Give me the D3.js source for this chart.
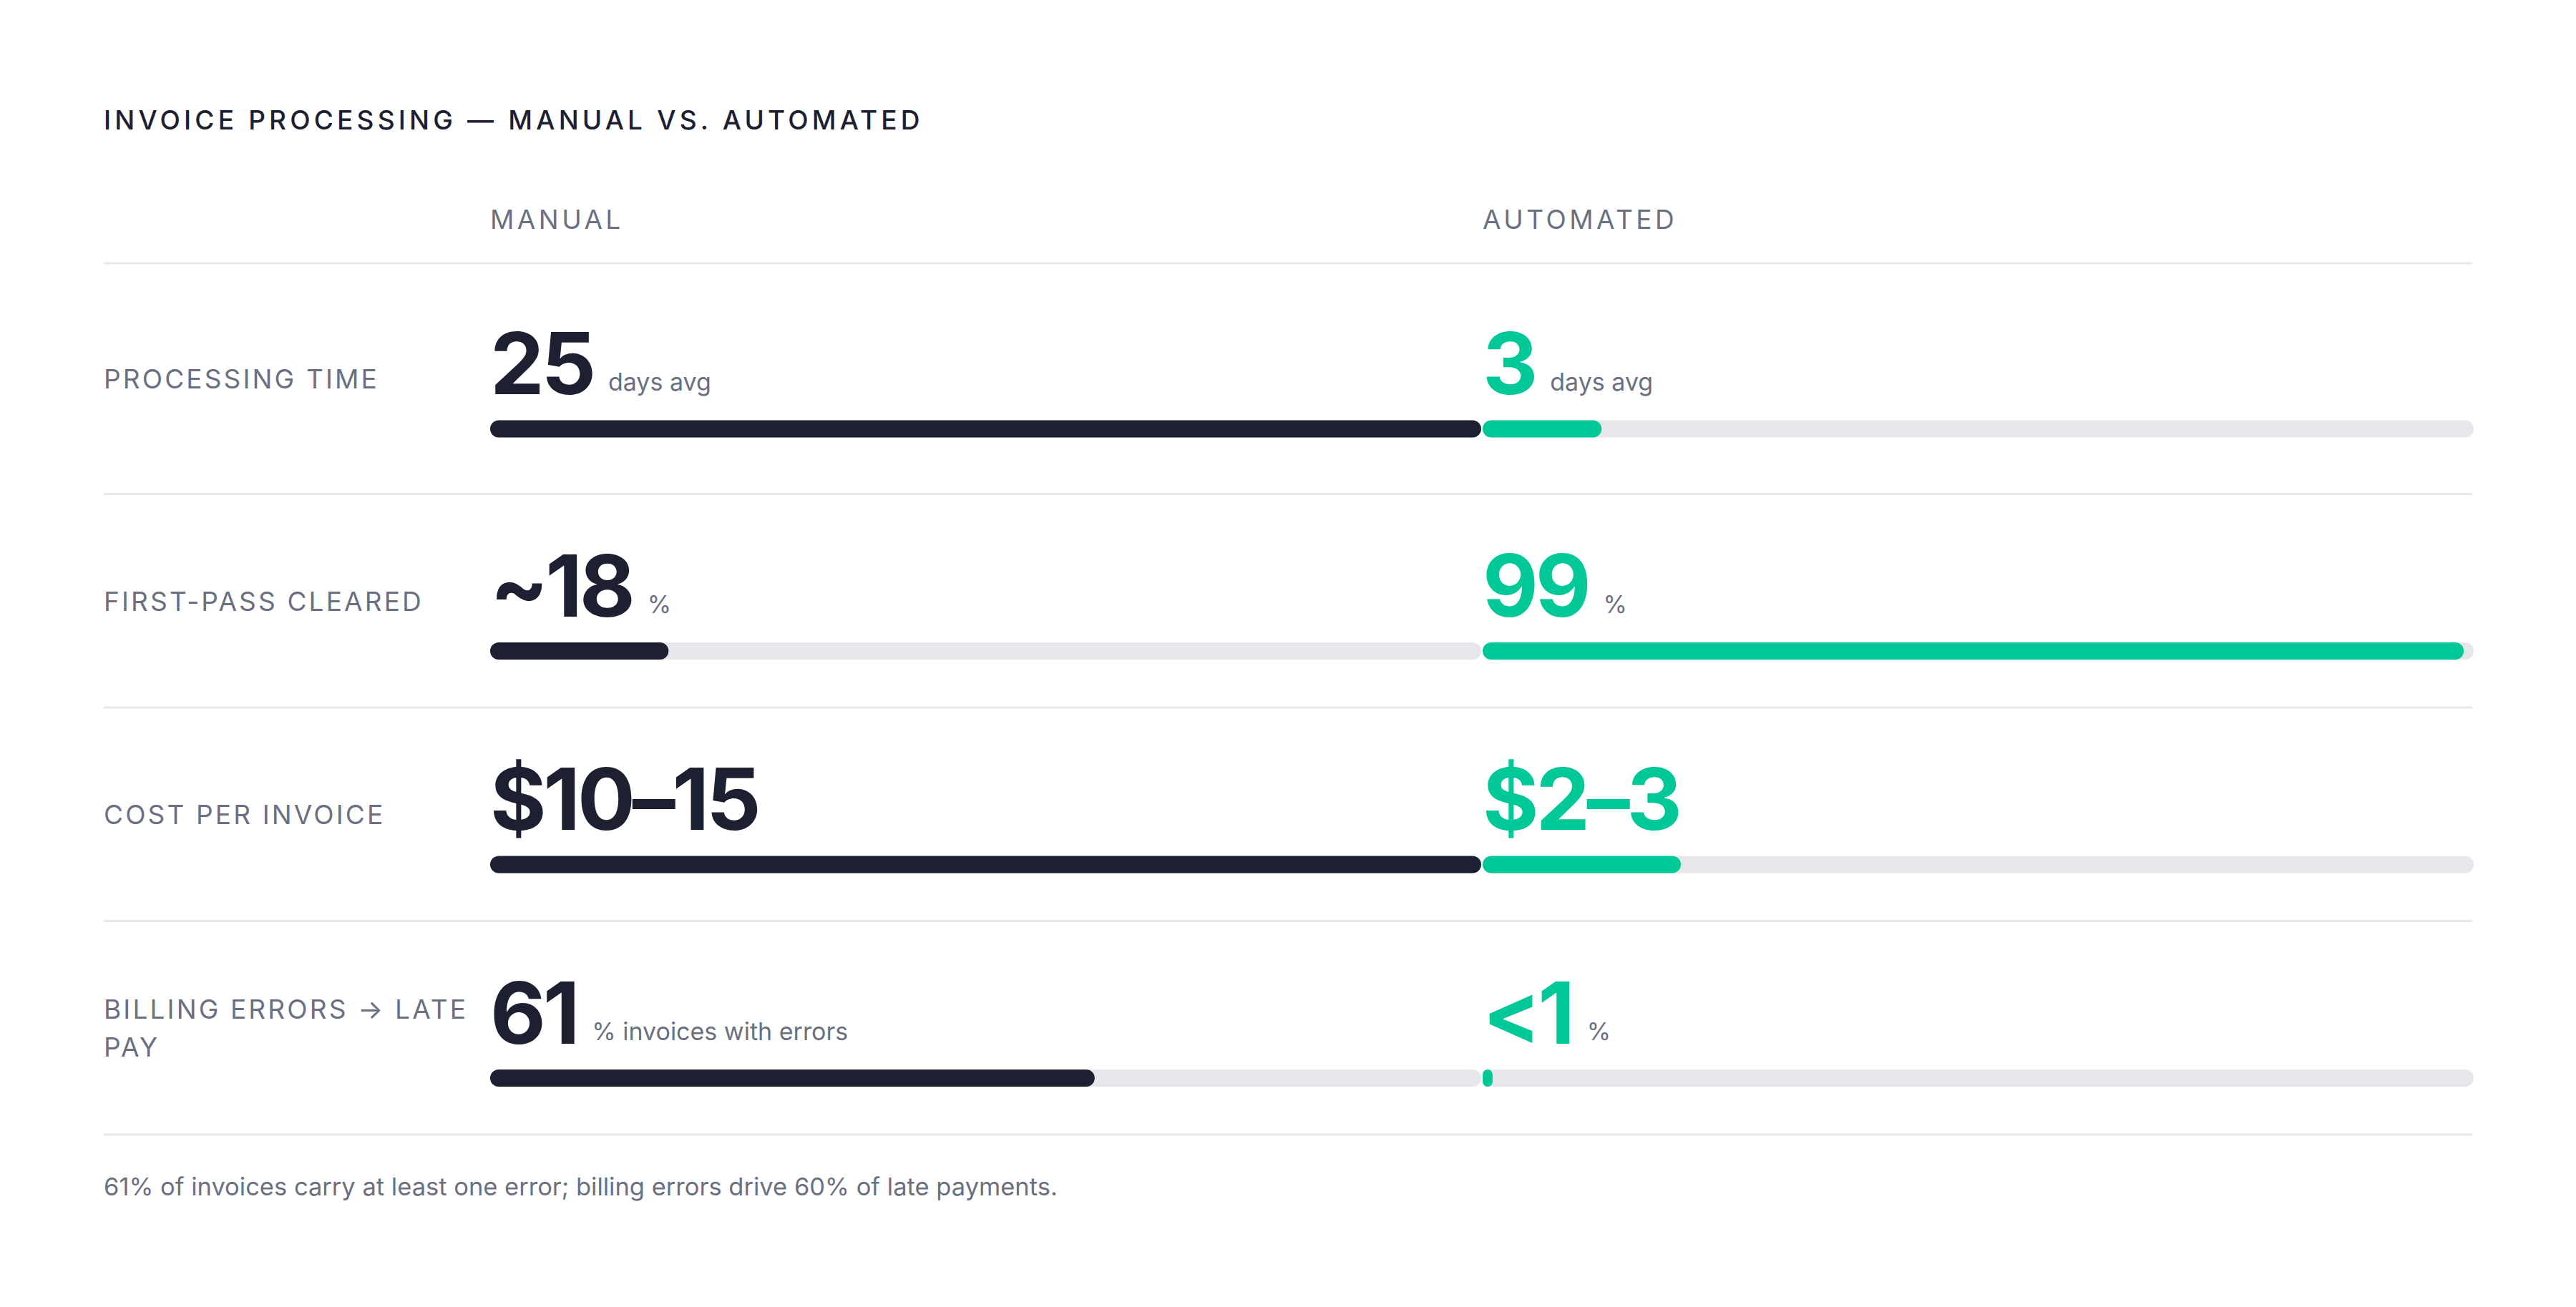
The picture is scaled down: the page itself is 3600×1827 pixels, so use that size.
<!DOCTYPE html>
<html>
<head>
<meta charset="utf-8">
<script src="https://cdn.jsdelivr.net/npm/d3@7"></script>
<style>
  html, body { margin: 0; padding: 0; background: #ffffff; }
  svg { display: block; font-family: Inter, "Noto Sans", sans-serif; }
</style>
</head>
<body>
<svg id="chart" width="3600" height="1827"></svg>
<script>
// ---- data ----
const title = "INVOICE PROCESSING — MANUAL VS. AUTOMATED";
const columns = ["MANUAL", "AUTOMATED"];
const metrics = ["PROCESSING TIME", "FIRST-PASS CLEARED", "COST PER INVOICE", "BILLING ERRORS → LATE PAY"];
const manualLabels = ["25", "~18", "$10–15", "61"];
const automatedLabels = ["3", "99", "$2–3", "<1"];
const manualUnits = ["days avg", "%", "", "% invoices with errors"];
const automatedUnits = ["days avg", "%", "", "%"];
const manualValues = [25, 18, 12.5, 61];
const automatedValues = [3, 99, 2.5, 1];
const scaleMax = [25, 100, 12.5, 100];
const footnote = "61% of invoices carry at least one error; billing errors drive 60% of late payments.";

// ---- style / layout ----
const C = {
  dark: "#1c2030", green: "#00c896", gray: "#6b7080", track: "#e5e7eb", rule: "#e5e7eb"
};
const left = 145, right = 3455;
const headerRule = 368;
const rowH = 298.5, firstExtra = 12;
const baseOff = 171, barOff = 207.5, barH = 24;

const svg = d3.select("#chart");

const colScale = d3.scaleBand().domain(columns).range([685, right + 2]).paddingInner(0.0015).paddingOuter(0);
const colW = colScale.bandwidth();

function rowTop(i) { return headerRule + (i > 0 ? 2 * firstExtra : 0) + i * rowH; }
function rowHeight(i) { return rowH + (i === 0 ? 2 * firstExtra : 0); }
function rowInner(i) { return rowTop(i) + (i === 0 ? firstExtra : 0); }

// title
svg.append("text")
  .attr("x", left).attr("y", 181)
  .attr("fill", C.dark)
  .style("font-size", "37px").style("font-weight", 500).style("letter-spacing", "0.14em")
  .text(title);

// column headers
svg.selectAll("text.colhead").data(columns).join("text")
  .attr("class", "colhead")
  .attr("x", d => colScale(d)).attr("y", 320)
  .attr("fill", C.gray)
  .style("font-size", "37px").style("font-weight", 400).style("letter-spacing", "0.12em")
  .text(d => d);

// rules
const rules = [headerRule].concat(metrics.map((m, i) => rowTop(i) + rowHeight(i)));
svg.selectAll("line.rule").data(rules).join("line")
  .attr("class", "rule")
  .attr("x1", left).attr("x2", right)
  .attr("y1", d => d).attr("y2", d => d)
  .attr("stroke", C.rule).attr("stroke-width", 3);

// rows
metrics.forEach((m, i) => {
  const g = svg.append("g");
  const center = rowTop(i) + rowHeight(i) / 2;

  // label with wrapping
  const lbl = g.append("text")
    .attr("x", left)
    .attr("fill", C.gray)
    .style("font-size", "37px").style("font-weight", 400).style("letter-spacing", "0.085em");
  const words = m.split(" ");
  const lines = [];
  let cur = [];
  const maxW = 530;
  const probe = lbl.append("tspan");
  words.forEach(w => {
    const test = cur.concat([w]).join(" ");
    probe.text(test);
    if (probe.node().getComputedTextLength() > maxW && cur.length) {
      lines.push(cur.join(" "));
      cur = [w];
    } else cur.push(w);
  });
  lines.push(cur.join(" "));
  probe.remove();
  const lh = 53;
  const first = center + 14 - (lines.length - 1) * lh / 2;
  lines.forEach((t, k) => {
    lbl.append("tspan").attr("x", left).attr("y", first + k * lh).text(t);
  });

  const x = d3.scaleLinear().domain([0, scaleMax[i]]).range([0, colW]);
  const base = rowInner(i) + baseOff;
  const barY = rowInner(i) + barOff;

  const cols = [
    { col: columns[0], label: manualLabels[i], unit: manualUnits[i], value: manualValues[i], color: C.dark },
    { col: columns[1], label: automatedLabels[i], unit: automatedUnits[i], value: automatedValues[i], color: C.green }
  ];

  cols.forEach(c => {
    const x0 = colScale(c.col);
    const num = g.append("text")
      .attr("x", x0).attr("y", base)
      .attr("fill", c.color)
      .style("font-size", "120px").style("font-weight", 700).style("letter-spacing", "-0.035em")
      .text(c.label);
    if (c.unit) {
      const w = num.node().getComputedTextLength();
      g.append("text")
        .attr("x", x0 + w + 21).attr("y", base - 5)
        .attr("fill", C.gray)
        .style("font-size", "34px").style("font-weight", 400)
        .text(c.unit);
    }
    // track
    g.append("rect")
      .attr("x", x0).attr("y", barY)
      .attr("width", x(scaleMax[i])).attr("height", barH)
      .attr("rx", barH / 2).attr("fill", C.track);
    // value bar
    const bw = x(c.value);
    g.append("rect")
      .attr("x", x0).attr("y", barY)
      .attr("width", bw).attr("height", barH)
      .attr("rx", Math.min(barH / 2, bw / 2)).attr("fill", c.color);
  });
});

// footnote
svg.append("text")
  .attr("x", left).attr("y", 1671)
  .attr("fill", C.gray)
  .style("font-size", "34.5px").style("font-weight", 400)
  .text(footnote);
</script>
</body>
</html>
